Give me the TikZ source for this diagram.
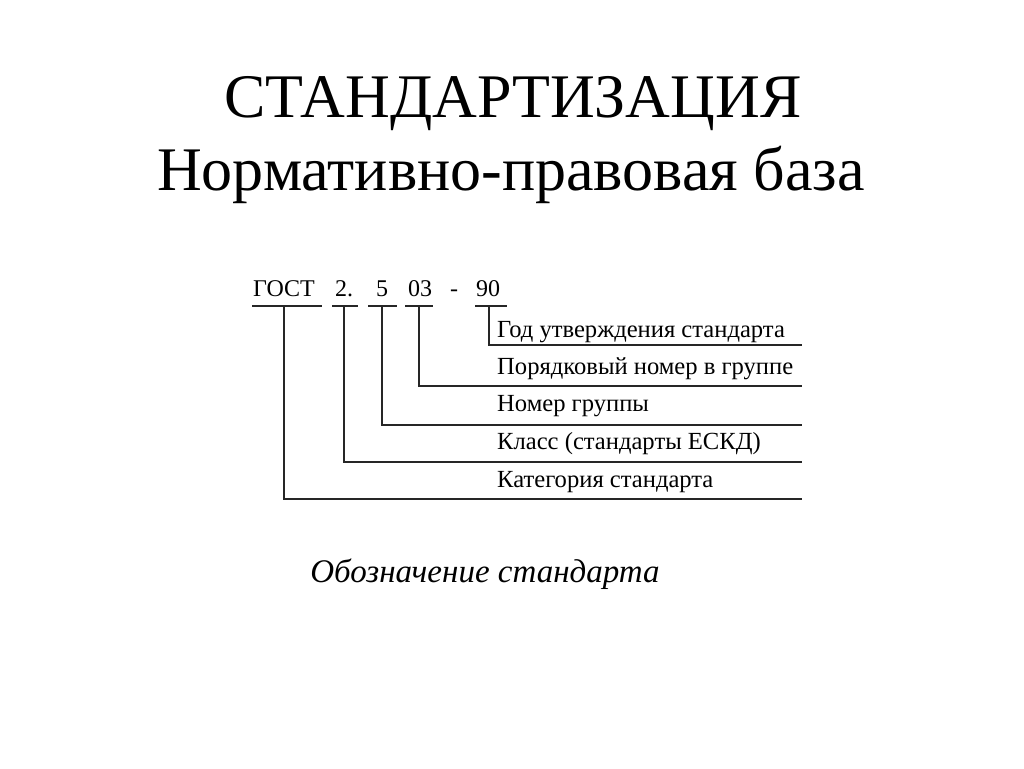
\documentclass[tikz,border=0pt]{standalone}
\usepackage{fontspec}
\setmainfont{Liberation Serif}
\begin{document}
\begin{tikzpicture}[x=1pt,y=-1pt,
  code/.style={anchor=base,inner sep=0pt,font=\fontsize{24}{24}\selectfont},
  lab/.style={anchor=base west,inner sep=0pt,font=\fontsize{24.6}{24.6}\selectfont},
  ttl/.style={anchor=base,inner sep=0pt,font=\fontsize{62}{62}\selectfont},
  ln/.style={line width=1.6pt,black!85}]
\useasboundingbox (0,0) rectangle (1024,768);
% titles
\node[ttl] (t1) at (513,117) {СТАНДАРТИЗАЦИЯ};
\node[ttl] (t2) at (511,190) {Нормативно-правовая база};
% code
\node[code] (g) at (284,296) {ГОСТ};
\node[code] (c2) at (344,296) {2.};
\node[code] (c5) at (382,296) {5};
\node[code] (c03) at (420,296) {03};
\node[code] (dash) at (454,296) {-};
\node[code] (c90) at (488,296) {90};
% underlines
\draw[ln] (252,306) -- (322,306);
\draw[ln] (332,306) -- (358,306);
\draw[ln] (368,306) -- (397,306);
\draw[ln] (405,306) -- (433,306);
\draw[ln] (475,306) -- (507,306);
\coordinate (ug) at (284,306);
\coordinate (u2) at (344,306);
\coordinate (u5) at (382,306);
\coordinate (u03) at (419,306);
\coordinate (u90) at (489,306);
% labels
\node[lab] (l1) at (497,337) {Год утверждения стандарта};
\node[lab] (l2) at (497,374) {Порядковый номер в группе};
\node[lab] (l3) at (497,411) {Номер группы};
\node[lab] (l4) at (497,449) {Класс (стандарты ЕСКД)};
\node[lab] (l5) at (497,487) {Категория стандарта};
\coordinate (e1) at (802,345);
\coordinate (e2) at (802,386);
\coordinate (e3) at (802,425);
\coordinate (e4) at (802,462);
\coordinate (e5) at (802,499);
% connectors
\draw[ln] (u90) |- (e1);
\draw[ln] (u03) |- (e2);
\draw[ln] (u5) |- (e3);
\draw[ln] (u2) |- (e4);
\draw[ln] (ug) |- (e5);
% caption
\node[anchor=base,inner sep=0pt,font=\fontsize{33}{33}\selectfont\itshape] (cap) at (485,582) {Обозначение стандарта};
\end{tikzpicture}
\end{document}
